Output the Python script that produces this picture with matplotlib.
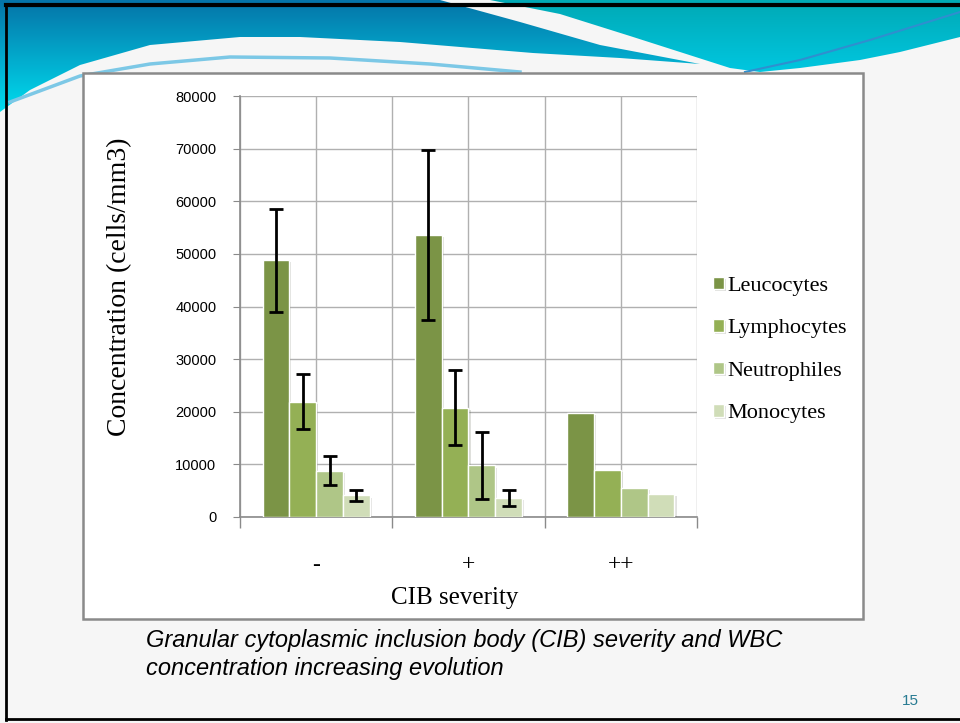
import numpy as np
import matplotlib
matplotlib.use("Agg")
from matplotlib import pyplot as plt
from matplotlib.path import Path
from matplotlib.patches import PathPatch, Rectangle
from matplotlib import patheffects as pe
from matplotlib.transforms import blended_transform_factory

# data
categories = ['-', '+', '++']
series_names = ['Leucocytes', 'Lymphocytes', 'Neutrophiles', 'Monocytes']
leucocytes = [48800, 53600, 19800]
lymphocytes = [21900, 20800, 8900]
neutrophiles = [8800, 9800, 5500]
monocytes = [4100, 3600, 4400]
leuco_err = [9800, 16100, 0]
lympho_err = [5250, 7200, 0]
neutro_err = [2800, 6300, 0]
mono_err = [1000, 1550, 0]
y_ticks = [0, 10000, 20000, 30000, 40000, 50000, 60000, 70000, 80000]

colors = ['#7b9446', '#94b055', '#afc687', '#d0ddb8']
W, H = 960, 723

fig = plt.figure(figsize=(9.6, 7.23), dpi=100)
fig.patch.set_facecolor('#f6f6f6')

# background axes in pixel coordinates of the slide
bg = fig.add_axes([0, 0, 1, 1], zorder=0)
bg.set_xlim(0, W)
bg.set_ylim(H, 0)
bg.axis('off')


def gradient_patch(points, top_col, bot_col, y0, y1):
    path = Path(points + [points[0]], closed=True)
    patch = PathPatch(path, facecolor='none', edgecolor='none')
    bg.add_patch(patch)
    c0 = np.array(matplotlib.colors.to_rgb(top_col))
    c1 = np.array(matplotlib.colors.to_rgb(bot_col))
    t = np.linspace(0, 1, 100)[:, None]
    img = (c0 * (1 - t) + c1 * t)[:, None, :]
    im = bg.imshow(img, extent=(0, W, y1, y0), aspect='auto', zorder=1)
    im.set_clip_path(patch)


# header wave, left part
left_pts = [(0, 0), (440, 0), (520, 22), (600, 45), (700, 64), (620, 58), (533, 53),
            (400, 42), (300, 37), (240, 37), (150, 45), (80, 65), (30, 90), (0, 112)]
gradient_patch(left_pts, '#0574a8', '#00dcee', 0, 112)
# header wave, right part
right_pts = [(490, 0), (960, 0), (960, 37), (900, 52), (860, 60), (800, 68),
             (760, 72), (730, 68), (705, 60), (630, 36), (560, 14)]
gradient_patch(right_pts, '#00a9b5', '#00c8e2', 0, 75)
bg.plot([10, 80, 150, 230, 330, 430, 520], [102, 76, 64, 57, 58, 64, 72],
        color='#7cc8e6', lw=2.5, zorder=2)
bg.plot([745, 800, 870, 960], [72, 60, 40, 12], color='#2f8fcf', lw=1.5, zorder=2)

# slide frame
bg.plot([6, 6], [5, 720], color='black', lw=2, zorder=3)
bg.plot([6, 960], [5, 5], color='black', lw=3, zorder=3)
bg.plot([6, 960], [719, 719], color='black', lw=2, zorder=3)

# chart box
bg.add_patch(Rectangle((83, 73), 780, 546, facecolor='white',
                       edgecolor='#8a8a8a', lw=1.8, zorder=2))

# caption and page number
bg.text(146, 641, 'Granular cytoplasmic inclusion body (CIB) severity and WBC',
        fontsize=17, style='italic', family='Liberation Sans', va='center', zorder=4)
bg.text(146, 669, 'concentration increasing evolution',
        fontsize=17, style='italic', family='Liberation Sans', va='center', zorder=4)
bg.text(910, 701, '15', fontsize=11, color='#287b92', family='Liberation Sans',
        ha='center', va='center', zorder=4)

# main chart
ax = fig.add_axes([240 / W, 1 - 517 / H, 457 / W, 421 / H], zorder=5)
ax.set_facecolor('none')
x = np.arange(len(categories))
bw = 0.176
values = [leucocytes, lymphocytes, neutrophiles, monocytes]
errors = [leuco_err, lympho_err, neutro_err, mono_err]

for i in range(4):
    pos = x + (i - 1.5) * bw
    bars = ax.bar(pos, values[i], width=bw, color=colors[i], edgecolor='white',
                  linewidth=1, label=series_names[i], zorder=3)
    for b in bars:
        b.set_path_effects([pe.SimplePatchShadow(offset=(1.5, -1.5), alpha=0.15), pe.Normal()])
    err = np.array(errors[i])
    m = err > 0
    ax.errorbar(pos[m], np.array(values[i])[m], yerr=err[m], fmt='none',
                ecolor='black', elinewidth=2, capsize=5, capthick=2, zorder=4)

ax.set_xlim(-0.5, 2.5)
ax.set_ylim(0, 80000)
ax.set_yticks(y_ticks)
ax.set_yticklabels([str(v) for v in y_ticks], family='Liberation Sans', fontsize=10.5)
ax.tick_params(axis='y', length=5, color='#8a8a8a', pad=12)
ax.set_xticks([-0.5, 0.5, 1.5, 2.5])
ax.set_xticklabels([])
ax.tick_params(axis='x', length=8, color='#8a8a8a', width=1)
ax.set_xticks([0, 1, 2], minor=True)
ax.tick_params(axis='x', which='minor', length=0)
ax.grid(True, which='both', color='#b0b0b0', lw=1, zorder=0)
for s in ['top', 'right']:
    ax.spines[s].set_visible(False)
ax.spines['left'].set_color('#8a8a8a')
ax.spines['bottom'].set_color('#8a8a8a')
ax.spines['left'].set_linewidth(1.2)
ax.spines['bottom'].set_linewidth(1.2)

trans = blended_transform_factory(ax.transData, bg.transData)
for xi, lab in zip(x, categories):
    ax.text(xi, 565, lab, transform=trans, ha='center', va='center',
            family='Liberation Serif', fontsize=17)
bg.text(455, 598, 'CIB severity', ha='center', va='center',
        family='Liberation Serif', fontsize=18, zorder=6)
bg.text(120, 287, 'Concentration (cells/mm3)', ha='center', va='center', rotation=90,
        family='Liberation Serif', fontsize=20, zorder=6)

leg = ax.legend(loc='center left', bbox_to_anchor=(702 / W, 1 - 350 / H),
                bbox_transform=fig.transFigure, frameon=False, borderpad=0,
                prop={'family': 'Liberation Serif', 'size': 16},
                handlelength=0.5, handleheight=0.5, handletextpad=0.15,
                labelspacing=1.05)

plt.savefig('out.png', dpi=100, facecolor=fig.get_facecolor())
